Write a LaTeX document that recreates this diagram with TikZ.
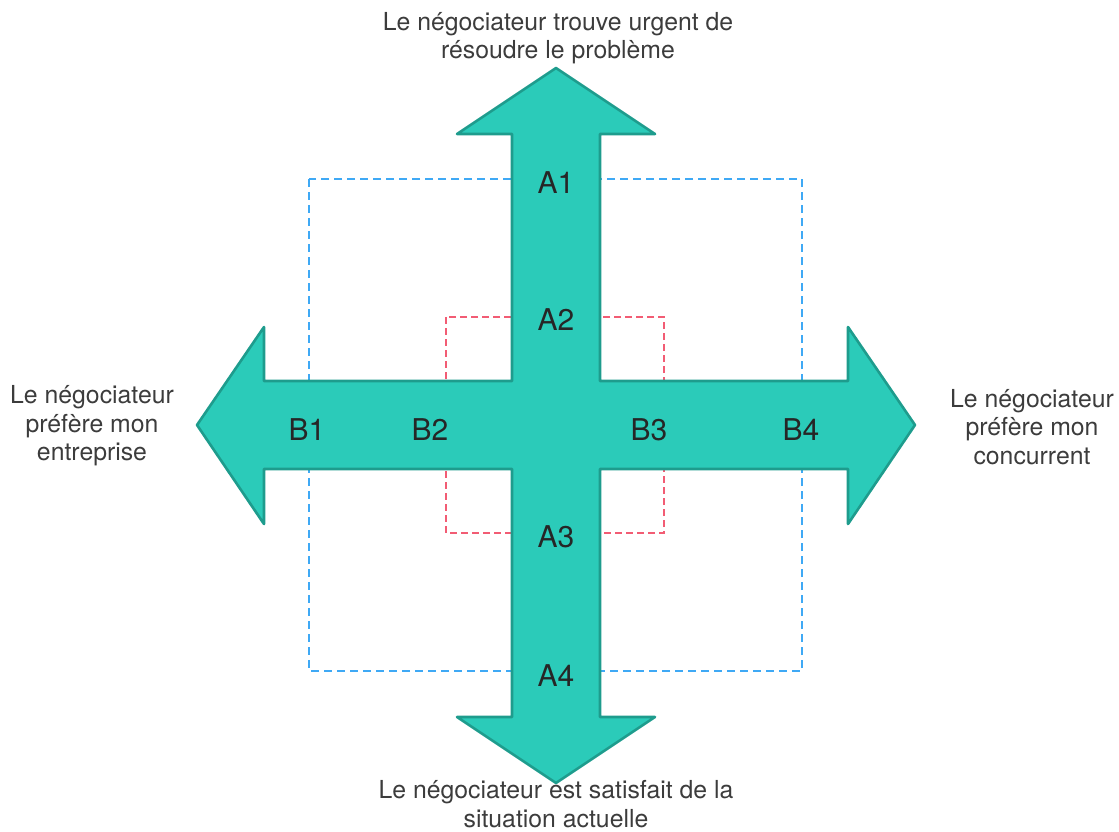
\documentclass[tikz,border=0pt]{standalone}
\usepackage{fontspec}
\setmainfont{TeX Gyre Heros}
\usepackage{tikz}
\usepackage{xcolor}
\definecolor{crossfill}{HTML}{2BCBB9}
\definecolor{crossline}{HTML}{1E9C8D}
\definecolor{bluedash}{HTML}{3FA9F5}
\definecolor{reddash}{HTML}{F25C74}
\definecolor{labelgray}{HTML}{3C3C3C}
\tikzset{
  axislabel/.style={align=center, text=labelgray, font=\fontsize{24.8}{28.6}\selectfont, inner sep=0pt},
  zonelabel/.style={text=black!85, font=\fontsize{30}{32}\selectfont, inner sep=0pt},
}

\begin{document}
\begin{tikzpicture}[x=1pt, y=-1pt]
            \useasboundingbox (0,0) rectangle (1119,831);
            \draw[bluedash, line width=1.2pt, dash pattern=on 8pt off 5pt] (309,179) rectangle (802,671);
            \draw[reddash, line width=1.2pt, dash pattern=on 7pt off 4pt] (446,317) rectangle (664,533);
            \filldraw[fill=crossfill, draw=crossline, line width=2.6pt, line join=round]
                (556,68) -- (655,134) -- (600,134) -- (600,381) -- (848,381) -- (848,327) -- (915,425)
                -- (848,524) -- (848,469) -- (600,469) -- (600,717) -- (655,717) -- (556,783)
                -- (457,717) -- (512,717) -- (512,469) -- (264,469) -- (264,524) -- (197,425)
                -- (264,327) -- (264,381) -- (512,381) -- (512,134) -- (457,134) -- cycle;
            \node[zonelabel] (a1) at (556,183) {A1};
            \node[zonelabel] (a2) at (556,320) {A2};
            \node[zonelabel] (a3) at (556,537) {A3};
            \node[zonelabel] (a4) at (556,676) {A4};
            \node[zonelabel] (b1) at (307,430) {B1};
            \node[zonelabel] (b2) at (430,430) {B2};
            \node[zonelabel] (b3) at (649,430) {B3};
            \node[zonelabel] (b4) at (801,430) {B4};
            \node[axislabel] (urgent) at (558,38) {Le négociateur trouve urgent de\\résoudre le problème};
            \node[axislabel] (satisfait) at (556,804) {Le négociateur est satisfait de la\\situation actuelle};
            \node[axislabel] (entreprise) at (92,426) {Le négociateur\\préfère mon\\entreprise};
            \node[axislabel] (concurrent) at (1032,427) {Le négociateur\\préfère mon\\concurrent};
\end{tikzpicture}
\end{document}
